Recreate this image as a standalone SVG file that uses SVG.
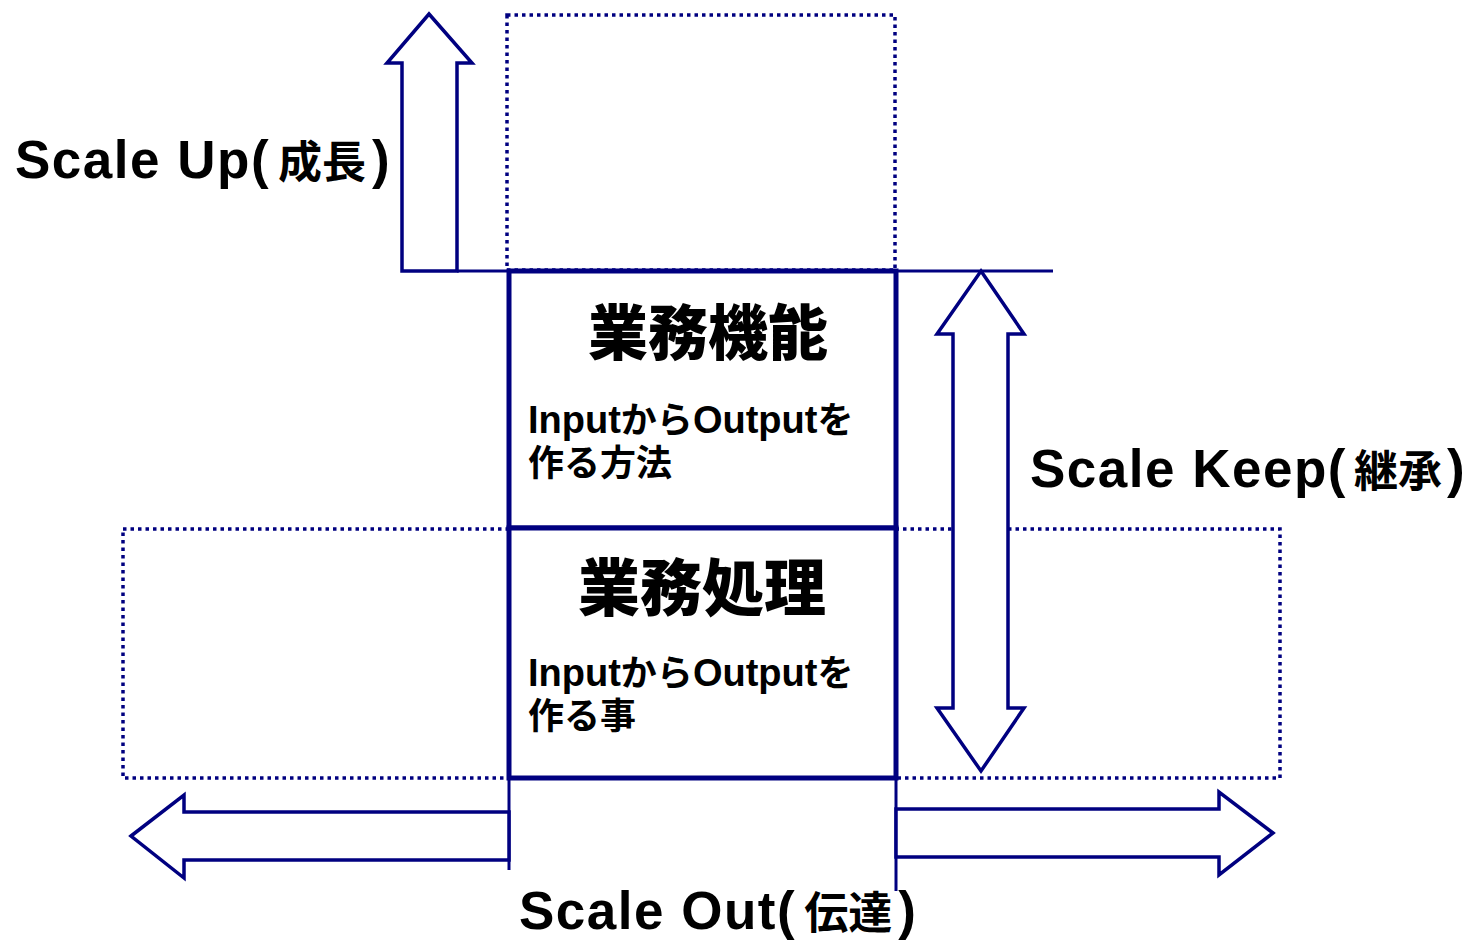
<svg xmlns="http://www.w3.org/2000/svg" width="1468" height="941" viewBox="0 0 1468 941">
<style>
.dot{fill:none;stroke:#000080;stroke-width:3.5;stroke-dasharray:3.5 4}
.box{fill:#fff;stroke:#000080;stroke-width:5}
.arr{fill:#fff;stroke:#000080;stroke-width:3.5;stroke-linejoin:miter}
.ln{stroke:#000080;stroke-width:3;fill:none}
.lbl{font-family:"Liberation Sans","Noto Sans CJK JP",sans-serif;font-weight:bold;font-size:53px;letter-spacing:1.5px;fill:#000}
.cj{font-family:"Noto Sans CJK JP",sans-serif;font-size:44px;letter-spacing:0}
.ttl{font-family:"Noto Sans CJK JP",sans-serif;font-weight:900;font-size:60px;fill:#000;text-anchor:middle}
.sub{font-family:"Liberation Sans","Noto Sans CJK JP",sans-serif;font-weight:bold;font-size:38px;fill:#000}
.subj{font-family:"Noto Sans CJK JP",sans-serif;font-weight:bold;font-size:36px}
</style>
<rect width="1468" height="941" fill="#fff"/>
<g id="scope-up"><rect class="dot" x="507" y="15" width="388" height="255"/></g>
<g id="scope-out"><rect class="dot" x="123" y="529" width="1157" height="249"/></g>
<g id="connectors">
<line class="ln" x1="457" y1="271" x2="1053" y2="271"/>
<line class="ln" x1="509" y1="778" x2="509" y2="870"/>
<line class="ln" x1="896" y1="778" x2="896" y2="891"/>
<polygon class="arr" points="429,14 472,63 457,63 457,271 402,271 402,63 387,63"/>
<polygon class="arr" points="981,271 1024,334 1008,334 1008,708 1024,708 981,771 937,708 953,708 953,334 937,334"/>
<polygon class="arr" points="131,836 184,795 184,812 509,812 509,860 184,860 184,878"/>
<polygon class="arr" points="1273,833 1219,792 1219,809 896,809 896,857 1219,857 1219,875"/>
</g>
<g id="node-kinou">
<rect class="box" x="509" y="271" width="387" height="257"/>
<text class="ttl" x="708" y="355">業務機能</text>
<text class="sub" x="528" y="433">Input<tspan class="subj">から</tspan>Output<tspan class="subj">を</tspan></text>
<text class="sub subj" x="528" y="476">作る方法</text>
</g>
<g id="node-shori">
<rect class="box" x="509" y="528" width="387" height="250"/>
<text class="ttl" x="702" y="611" style="font-size:62px">業務処理</text>
<text class="sub" x="528" y="686">Input<tspan class="subj">から</tspan>Output<tspan class="subj">を</tspan></text>
<text class="sub subj" x="528" y="729">作る事</text>
</g>
<g id="label-up"><text class="lbl" x="15" y="178">Scale Up(<tspan class="cj" dx="8">成長</tspan><tspan dx="6">)</tspan></text></g>
<g id="label-keep"><text class="lbl" x="1030" y="487">Scale Keep(<tspan class="cj" dx="7">継承</tspan><tspan dx="5">)</tspan></text></g>
<g id="label-out"><text class="lbl" x="519" y="929">Scale Out(<tspan class="cj" dx="8">伝達</tspan><tspan dx="6">)</tspan></text></g>
</svg>
